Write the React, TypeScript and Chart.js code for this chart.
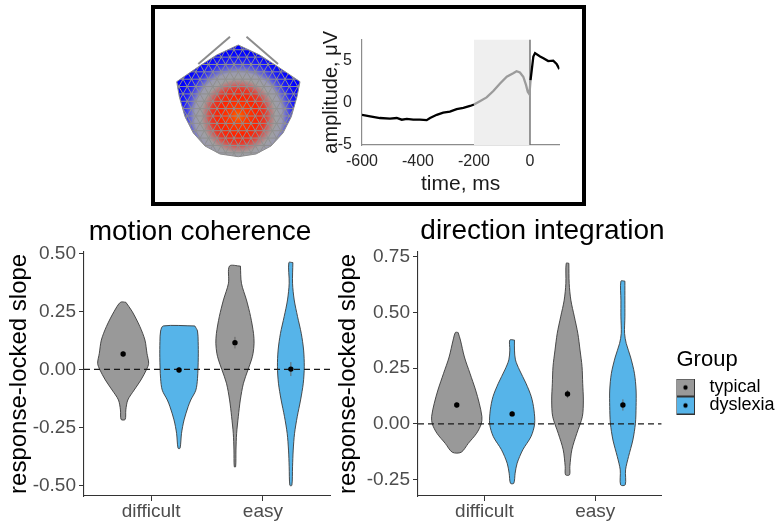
import React, { useEffect, useRef } from "react";
import { Chart, registerables } from "chart.js";

Chart.register(...registerables);

const FONT = '"Liberation Sans", Arial, Helvetica, sans-serif';
Chart.defaults.font.family = FONT;

// ---------------- inset: response-locked ERP ----------------
const erpTime = [-600, -571, -536, -500, -476, -458, -440, -417, -393, -369, -357, -333, -310, -286, -262, -238, -214, -200, -179, -155, -131, -107, -83, -60, -48, -36, -24, -14, -8, -2, 2, 12, 18, 36, 48, 65, 83, 95, 105];
const erpAmp = [-1.42, -1.6, -1.8, -1.87, -1.8, -2.0, -1.9, -2.0, -2.0, -2.05, -1.8, -1.42, -1.16, -1.05, -0.75, -0.6, -0.37, -0.2, 0.19, 0.64, 1.4, 2.3, 3.1, 3.5, 3.75, 3.6, 3.1, 2.1, 1.3, 1.0, 2.7, 5.5, 5.9, 5.5, 5.3, 4.95, 5.0, 4.6, 4.0];
const erpXTicks = [-600, -400, -200, 0];
const erpYTicks = [-5, 0, 5];
const erpWindow = [-200, 0];
const erpOnset = 0;
const erpXRange = [-600, 105];
const erpYRange = [-5, 7.5];

// ---------------- inset: sensor topography ----------------
const headOutlineX = [73.3, 51.7, 35, 11.7, 14.3, 20, 28.3, 40, 55, 73.3, 91, 106, 118, 126.3, 132, 135, 111.3, 94.7];
const headOutlineY = [20, 30, 40.7, 56.7, 71.7, 91.7, 108, 121, 129, 131.7, 129, 121, 108, 91.7, 71.7, 56.7, 40.7, 30];
const noseLeftX = [65, 33.3];
const noseLeftY = [11.7, 39];
const noseRightX = [81.5, 113];
const noseRightY = [11.7, 39];
const headCenter = [73.3, 91];

// ---------------- violins ----------------
const categories = ["difficult", "easy"];
const groups = ["typical", "dyslexia"];
const groupColors = ["#999999", "#56B4E9"];

// motion coherence
const mcYTicks = [-0.5, -0.25, 0, 0.25, 0.5];
const mcYRange = [-0.546, 0.507];
const mcDiffTypY = [0.289, 0.25, 0.184, 0.126, 0.069, 0.026, 0.0, -0.046, -0.089, -0.132, -0.175, -0.216];
const mcDiffTypW = [0.024, 0.08, 0.15, 0.195, 0.213, 0.228, 0.21, 0.159, 0.099, 0.042, 0.024, 0.018];
const mcDiffDysY = [0.187, 0.165, 0.12, 0.05, -0.04, -0.09, -0.132, -0.16, -0.218, -0.276, -0.34];
const mcDiffDysW = [0.141, 0.165, 0.171, 0.172, 0.165, 0.15, 0.105, 0.082, 0.045, 0.022, 0.009];
const mcEasyTypY = [0.445, 0.371, 0.299, 0.227, 0.155, 0.112, 0.069, 0.04, 0.0, -0.06, -0.132, -0.204, -0.276, -0.348, -0.42];
const mcEasyTypW = [0.049, 0.058, 0.103, 0.14, 0.166, 0.171, 0.162, 0.147, 0.118, 0.076, 0.048, 0.03, 0.015, 0.009, 0.006];
const mcEasyDysY = [0.46, 0.371, 0.299, 0.227, 0.155, 0.083, 0.011, -0.06, -0.132, -0.204, -0.276, -0.348, -0.42, -0.5];
const mcEasyDysW = [0.018, 0.015, 0.03, 0.06, 0.093, 0.114, 0.12, 0.111, 0.087, 0.057, 0.033, 0.021, 0.015, 0.009];
const mcTypMean = [0.066, 0.115];
const mcDysMean = [-0.003, 0.001];
const mcTypSE = [0.012, 0.025];
const mcDysSE = [0.012, 0.03];

// direction integration
const diYTicks = [-0.25, 0, 0.25, 0.5, 0.75];
const diYRange = [-0.323, 0.772];
const diDiffTypY = [0.41, 0.376, 0.3, 0.227, 0.152, 0.093, 0.033, 0.0, -0.042, -0.087, -0.127];
const diDiffTypW = [0.012, 0.033, 0.069, 0.119, 0.17, 0.203, 0.227, 0.221, 0.179, 0.104, 0.04];
const diDiffDysY = [0.376, 0.331, 0.287, 0.242, 0.182, 0.122, 0.063, 0.0, -0.057, -0.116, -0.176, -0.221, -0.266];
const diDiffDysW = [0.021, 0.021, 0.03, 0.066, 0.125, 0.173, 0.197, 0.203, 0.17, 0.096, 0.045, 0.027, 0.015];
const diEasyTypY = [0.72, 0.63, 0.555, 0.48, 0.406, 0.331, 0.257, 0.182, 0.107, 0.033, -0.042, -0.116, -0.191, -0.228];
const diEasyTypW = [0.012, 0.015, 0.03, 0.062, 0.093, 0.113, 0.131, 0.137, 0.143, 0.134, 0.084, 0.039, 0.021, 0.018];
const diEasyDysY = [0.64, 0.555, 0.48, 0.406, 0.361, 0.3, 0.227, 0.152, 0.078, 0.003, -0.072, -0.146, -0.206, -0.273];
const diEasyDysW = [0.018, 0.018, 0.018, 0.015, 0.03, 0.069, 0.104, 0.119, 0.119, 0.113, 0.09, 0.051, 0.024, 0.021];
const diTypMean = [0.085, 0.134];
const diDysMean = [0.045, 0.085];
const diTypSE = [0.012, 0.018];
const diDysSE = [0.012, 0.025];

const DODGE = 0.25;
const X_RANGE = [0.4, 2.6];

// ---------------- helpers ----------------
function textPlugin(items: any[]) {
  return {
    id: "overlayText",
    afterDraw(chart: any) {
      const ctx = chart.ctx;
      ctx.save();
      for (const it of items) {
        ctx.font = it.font;
        ctx.fillStyle = it.color;
        ctx.textAlign = it.align || "left";
        ctx.textBaseline = "alphabetic";
        ctx.fillText(it.text, it.x, it.y);
      }
      ctx.restore();
    },
  };
}

function xPos(cat: number, group: number) {
  return cat + 1 + (group === 0 ? -DODGE : DODGE);
}

function violinPolygon(center: number, ys: number[], ws: number[]) {
  const right = ys.map((y, i) => ({ x: center + ws[i], y }));
  const left = ys.map((y, i) => ({ x: center - ws[i], y })).reverse();
  return [...right, ...left, right[0]];
}

function violinDatasets(violins: any[], means: number[][], ses: number[][]) {
  const ds: any[] = [];
  violins.forEach((v) => {
    ds.push({
      data: violinPolygon(xPos(v.cat, v.group), v.ys, v.ws),
      showLine: true,
      fill: "shape",
      backgroundColor: groupColors[v.group],
      borderColor: "#3a3a3a",
      borderWidth: 0.9,
      pointRadius: 0,
      tension: 0.3,
      order: 10,
    });
  });
  ds.push({
    data: [{ x: X_RANGE[0], y: 0 }, { x: X_RANGE[1], y: 0 }],
    showLine: true,
    borderColor: "#1a1a1a",
    borderWidth: 1.2,
    borderDash: [6, 4],
    pointRadius: 0,
    order: 5,
  });
  means.forEach((m, g) => {
    m.forEach((val, i) => {
      ds.push({
        data: [{ x: xPos(i, g), y: val - ses[g][i] }, { x: xPos(i, g), y: val + ses[g][i] }],
        showLine: true,
        borderColor: "#666666",
        borderWidth: 1,
        pointRadius: 0,
        order: 2,
      });
    });
    ds.push({
      data: m.map((val, i) => ({ x: xPos(i, g), y: val })),
      showLine: false,
      pointRadius: 2.7,
      pointBackgroundColor: "#000",
      pointBorderWidth: 0,
      order: 1,
    });
  });
  return ds;
}

function legendKey(color: string) {
  const c = document.createElement("canvas");
  c.width = 25;
  c.height = 18;
  const g = c.getContext("2d")!;
  g.fillStyle = color;
  g.fillRect(0.5, 0.5, 18, 17);
  g.strokeStyle = "#333";
  g.lineWidth = 1;
  g.strokeRect(0.5, 0.5, 18, 17);
  g.fillStyle = "#000";
  g.beginPath();
  g.arc(9.5, 9, 2.2, 0, Math.PI * 2);
  g.fill();
  return c;
}

function makeViolinConfig(p: any) {
  const axisColor = "#333333";
  const scales: any = {
    x: {
      type: "linear",
      min: X_RANGE[0],
      max: X_RANGE[1],
      afterBuildTicks: (s: any) => {
        s.ticks = categories.map((_, i) => ({ value: i + 1 }));
      },
      afterFit: (s: any) => {
        s.height = 27;
      },
      ticks: {
        callback: (v: any) => categories[Math.round(v) - 1] ?? "",
        font: { size: 19, lineHeight: 1 },
        color: "#4d4d4d",
        padding: 1,
        maxRotation: 0,
        autoSkip: false,
      },
      grid: { display: true, drawOnChartArea: false, drawTicks: true, tickLength: 5, color: axisColor, lineWidth: 1 },
      border: { display: true, color: axisColor, width: 1.1 },
    },
    y: {
      type: "linear",
      min: p.yRange[0],
      max: p.yRange[1],
      afterBuildTicks: (s: any) => {
        s.ticks = p.yTicks.map((v: number) => ({ value: v }));
      },
      afterFit: (s: any) => {
        s.width = p.yAxisWidth;
      },
      ticks: {
        callback: (v: any) => Number(v).toFixed(2),
        font: { size: 19 },
        color: "#4d4d4d",
        padding: 3,
        autoSkip: false,
      },
      grid: { display: true, drawOnChartArea: false, drawTicks: true, tickLength: 5, color: axisColor, lineWidth: 1 },
      border: { display: true, color: axisColor, width: 1.1 },
      title: {
        display: true,
        text: "response-locked slope",
        font: { size: 24 },
        color: "#000",
        padding: { top: p.yTitlePad, bottom: 0 },
      },
    },
  };
  let legend: any = { display: false };
  if (p.legend) {
    scales.gap = {
      type: "linear",
      position: "right",
      display: true,
      afterFit: (s: any) => {
        s.width = p.legendGap;
      },
      ticks: { display: false },
      grid: { display: false, drawTicks: false },
      border: { display: false },
    };
    const keys = groupColors.map((c) => legendKey(c));
    legend = {
      display: true,
      position: "right",
      align: "center",
      fullSize: false,
      maxWidth: 240,
      title: {
        display: true,
        text: "Group",
        position: "start",
        color: "#000",
        font: { size: 22 },
        padding: { top: 15.7, bottom: 3.2 },
      },
      labels: {
        usePointStyle: true,
        pointStyleWidth: 24,
        boxWidth: 24,
        boxHeight: 18,
        padding: 0,
        color: "#000",
        font: { size: 18 },
        generateLabels: () =>
          groups.map((g, i) => ({
            text: g,
            pointStyle: keys[i],
            fillStyle: groupColors[i],
            strokeStyle: "#333",
            lineWidth: 0,
            hidden: false,
            fontColor: "#000",
            datasetIndex: i,
          })),
      },
    };
  }
  return {
    type: "scatter",
    data: { datasets: violinDatasets(p.violins, p.means, p.ses) },
    options: {
      responsive: false,
      animation: false,
      devicePixelRatio: 1,
      events: [],
      layout: { padding: p.padding },
      scales,
      plugins: { legend, tooltip: { enabled: false } },
    },
    plugins: [
      textPlugin([{ text: p.title, x: p.titleX, y: p.titleY, font: `28px ${FONT}`, color: "#000", align: "center" }]),
    ],
  };
}

function makeMcConfig() {
  return makeViolinConfig({
    violins: [
      { cat: 0, group: 0, ys: mcDiffTypY, ws: mcDiffTypW },
      { cat: 0, group: 1, ys: mcDiffDysY, ws: mcDiffDysW },
      { cat: 1, group: 0, ys: mcEasyTypY, ws: mcEasyTypW },
      { cat: 1, group: 1, ys: mcEasyDysY, ws: mcEasyDysW },
    ],
    means: [mcTypMean, mcDysMean],
    ses: [mcTypSE, mcDysSE],
    yRange: mcYRange,
    yTicks: mcYTicks,
    yAxisWidth: 84,
    yTitlePad: 5.2,
    title: "motion coherence",
    titleX: 200,
    titleY: 33.5,
    padding: { left: 0, top: 45.7, right: 15, bottom: 0 },
    legend: false,
  });
}

function makeDiConfig() {
  return makeViolinConfig({
    violins: [
      { cat: 0, group: 0, ys: diDiffTypY, ws: diDiffTypW },
      { cat: 0, group: 1, ys: diDiffDysY, ws: diDiffDysW },
      { cat: 1, group: 0, ys: diEasyTypY, ws: diEasyTypW },
      { cat: 1, group: 1, ys: diEasyDysY, ws: diEasyDysW },
    ],
    means: [diTypMean, diDysMean],
    ses: [diTypSE, diDysSE],
    yRange: diYRange,
    yTicks: diYTicks,
    yAxisWidth: 88,
    yTitlePad: 4.4,
    title: "direction integration",
    titleX: 212.5,
    titleY: 33.3,
    padding: { left: 0, top: 45.7, right: -8.5, bottom: 0 },
    legend: true,
    legendGap: 14.8,
  });
}

function makeErpConfig() {
  const curve = erpTime.map((t, i) => ({ x: t, y: erpAmp[i] }));
  const [w0, w1] = erpWindow;
  const [y0, y1] = erpYRange;
  const shade = [
    { x: w0, y: y0 },
    { x: w1, y: y0 },
    { x: w1, y: y1 },
    { x: w0, y: y1 },
    { x: w0, y: y0 },
  ];
  const inWin = (x: number) => x >= w0 && x < w1;
  const tickColor = "#262626";
  return {
    type: "scatter",
    data: {
      datasets: [
        {
          data: curve,
          showLine: true,
          borderColor: "#000",
          borderWidth: 2.3,
          pointRadius: 0,
          segment: {
            borderColor: (c: any) => (inWin(erpTime[c.p0DataIndex]) ? "#9b9b9b" : "#000"),
          },
          order: 0,
        },
        {
          data: [{ x: erpOnset, y: y0 }, { x: erpOnset, y: y1 }],
          showLine: true,
          borderColor: "#6e6e6e",
          borderWidth: 1.4,
          pointRadius: 0,
          order: 1,
        },
        {
          data: shade,
          showLine: true,
          fill: "shape",
          backgroundColor: "#efefef",
          borderColor: "rgba(0,0,0,0)",
          borderWidth: 0,
          pointRadius: 0,
          order: 2,
        },
      ],
    },
    options: {
      responsive: false,
      animation: false,
      devicePixelRatio: 1,
      events: [],
      layout: { padding: { left: 0, top: 14, right: 20.6, bottom: 0 } },
      plugins: { legend: { display: false }, tooltip: { enabled: false } },
      scales: {
        x: {
          type: "linear",
          min: erpXRange[0],
          max: erpXRange[1],
          afterBuildTicks: (s: any) => {
            s.ticks = erpXTicks.map((v) => ({ value: v }));
          },
          afterFit: (s: any) => {
            s.height = 55;
          },
          grid: { display: false, drawTicks: false },
          border: { display: true, color: "#8c8c8c", width: 1.2 },
          ticks: { font: { size: 16 }, color: tickColor, padding: 7, callback: (v: any) => String(v), maxRotation: 0, autoSkip: false },
          title: { display: true, text: "time, ms", font: { size: 21 }, color: "#1a1a1a", padding: { top: 0, bottom: 3.4 } },
        },
        y: {
          type: "linear",
          min: erpYRange[0],
          max: erpYRange[1],
          afterBuildTicks: (s: any) => {
            s.ticks = erpYTicks.map((v) => ({ value: v }));
          },
          afterFit: (s: any) => {
            s.width = 62;
          },
          grid: { display: false, drawTicks: false },
          border: { display: true, color: "#8c8c8c", width: 1.2 },
          ticks: { font: { size: 16 }, color: tickColor, padding: 10, callback: (v: any) => String(v), autoSkip: false },
          title: { display: true, text: "amplitude, μV", font: { size: 20 }, color: "#1a1a1a", padding: { top: 19, bottom: 0 } },
        },
      },
    },
  };
}

function headGradient(chart: any) {
  if (!chart.chartArea || !chart.scales || !chart.scales.x) return "#1010ff";
  const cx = chart.scales.x.getPixelForValue(headCenter[0]);
  const cy = chart.scales.y.getPixelForValue(headCenter[1]);
  const g = chart.ctx.createRadialGradient(cx, cy, 0, cx, cy, 64);
  g.addColorStop(0, "#ff6a00");
  g.addColorStop(0.12, "#ff3c00");
  g.addColorStop(0.3, "#ff2200");
  g.addColorStop(0.42, "#e83828");
  g.addColorStop(0.5, "#c07070");
  g.addColorStop(0.58, "#a0a0a0");
  g.addColorStop(0.68, "#9a9ab0");
  g.addColorStop(0.76, "#6060d8");
  g.addColorStop(0.86, "#2020f8");
  g.addColorStop(1, "#0000ff");
  return g;
}

const meshPlugin = {
  id: "headMesh",
  afterDatasetDraw(chart: any, args: any) {
    if (args.index !== 0) return;
    const pts = chart.getDatasetMeta(0).data as any[];
    if (!pts.length) return;
    const ctx = chart.ctx;
    const cx = chart.scales.x.getPixelForValue(headCenter[0]);
    const cy = chart.scales.y.getPixelForValue(headCenter[1]);
    ctx.save();
    ctx.beginPath();
    pts.forEach((p: any, i: number) => (i ? ctx.lineTo(p.x, p.y) : ctx.moveTo(p.x, p.y)));
    ctx.closePath();
    ctx.clip();
    ctx.strokeStyle = "#8f8f8f";
    ctx.lineWidth = 1;
    ctx.beginPath();
    const s = 8.5;
    const d = (s * Math.sqrt(3)) / 2;
    const L = 200;
    [0, Math.PI / 3, (2 * Math.PI) / 3].forEach((th) => {
      const dx = Math.cos(th);
      const dy = Math.sin(th);
      const nx = -dy;
      const ny = dx;
      for (let k = -18; k <= 18; k++) {
        const ox = cx + nx * k * d;
        const oy = cy + ny * k * d;
        ctx.moveTo(ox - dx * L, oy - dy * L);
        ctx.lineTo(ox + dx * L, oy + dy * L);
      }
    });
    ctx.stroke();
    ctx.restore();
  },
};

function makeHeadConfig() {
  const outline = headOutlineX.map((x, i) => ({ x, y: headOutlineY[i] }));
  outline.push(outline[0]);
  const noseL = noseLeftX.map((x, i) => ({ x, y: noseLeftY[i] }));
  const noseR = noseRightX.map((x, i) => ({ x, y: noseRightY[i] }));
  return {
    type: "scatter",
    data: {
      datasets: [
        {
          data: outline,
          showLine: true,
          fill: "shape",
          backgroundColor: (c: any) => headGradient(c.chart),
          borderColor: "#8c8c8c",
          borderWidth: 1,
          pointRadius: 0,
          order: 2,
        },
        { data: noseL, showLine: true, borderColor: "#8c8c8c", borderWidth: 2, pointRadius: 0, order: 1 },
        { data: noseR, showLine: true, borderColor: "#8c8c8c", borderWidth: 2, pointRadius: 0, order: 1 },
      ],
    },
    options: {
      responsive: false,
      animation: false,
      devicePixelRatio: 1,
      events: [],
      layout: { padding: 0 },
      plugins: { legend: { display: false }, tooltip: { enabled: false } },
      scales: {
        x: { type: "linear", display: false, min: 0, max: 150 },
        y: { type: "linear", display: false, min: 0, max: 150, reverse: true },
      },
    },
    plugins: [meshPlugin],
  };
}

function ChartCanvas({ make, left, top, width, height }: any) {
  const ref = useRef<HTMLCanvasElement>(null);
  useEffect(() => {
    const chart = new Chart(ref.current as HTMLCanvasElement, make());
    return () => chart.destroy();
  }, []);
  return (
    <canvas
      ref={ref}
      width={width}
      height={height}
      style={{ position: "absolute", left, top, width, height, display: "block" }}
    />
  );
}

export default function App() {
  return (
    <div
      style={{
        position: "absolute",
        left: 0,
        top: 0,
        width: 776,
        height: 523,
        overflow: "hidden",
        background: "#fff",
      }}
    >
      <div
        style={{
          position: "absolute",
          left: 151,
          top: 5,
          width: 435,
          height: 201,
          border: "4px solid #000",
          boxSizing: "border-box",
        }}
      />
      <ChartCanvas make={makeHeadConfig} left={165} top={25} width={150} height={150} />
      <ChartCanvas make={makeErpConfig} left={300} top={20} width={280} height={180} />
      <ChartCanvas make={makeMcConfig} left={0} top={206} width={345} height={317} />
      <ChartCanvas make={makeDiConfig} left={330} top={206} width={446} height={317} />
    </div>
  );
}
